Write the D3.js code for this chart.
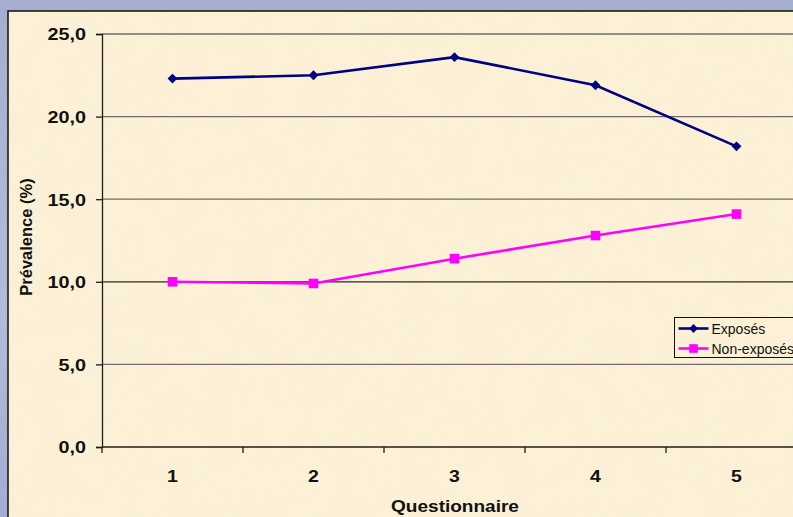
<!DOCTYPE html>
<html>
<head>
<meta charset="utf-8">
<script src="https://cdn.jsdelivr.net/npm/d3@7"></script>
<style>
  html, body { margin: 0; padding: 0; background: #a9b2d3; }
  svg { display: block; font-family: Arial, "Liberation Sans", sans-serif; }
</style>
</head>
<body>
<svg width="793" height="517"></svg>
<script>
// Chart data
var questionnaires = [1, 2, 3, 4, 5];
var exposes = [22.3, 22.5, 23.6, 21.9, 18.2];
var nonExposes = [10.0, 9.9, 11.4, 12.8, 14.1];
var yTicks = [0, 5, 10, 15, 20, 25];
var seriesNames = ["Exposés", "Non-exposés"];

var svg = d3.select("svg"),
    width = +svg.attr("width"),
    height = +svg.attr("height");

// blue slide background with a soft vertical fade
var defs = svg.append("defs");
var bg = defs.append("linearGradient").attr("id", "bg")
    .attr("x1", 0).attr("y1", 0).attr("x2", 0).attr("y2", 1);
bg.append("stop").attr("offset", "0%").attr("stop-color", "#a6aed0");
bg.append("stop").attr("offset", "60%").attr("stop-color", "#b4bbd9");
bg.append("stop").attr("offset", "100%").attr("stop-color", "#a3acd2");

// parchment texture for the chart area
var tex = defs.append("filter").attr("id", "paper")
    .attr("x", 0).attr("y", 0).attr("width", "100%").attr("height", "100%");
tex.append("feTurbulence").attr("type", "fractalNoise")
    .attr("baseFrequency", 0.03).attr("numOctaves", 3).attr("seed", 4).attr("result", "noise");
tex.append("feColorMatrix").attr("in", "noise").attr("type", "matrix")
    .attr("values", "0 0 0 0 0.92  0 0 0 0 0.85  0 0 0 0 0.66  0 0 0 0.35 -0.05")
    .attr("result", "tint");
tex.append("feComposite").attr("in", "tint").attr("in2", "SourceGraphic").attr("operator", "in");

svg.append("rect").attr("width", width).attr("height", height).attr("fill", "url(#bg)");

// chart frame
var frame = { x: 8, y: 11 };
[null, "url(#paper)"].forEach(function(f) {
  svg.append("rect")
      .attr("x", frame.x).attr("y", frame.y)
      .attr("width", width - frame.x + 5).attr("height", height - frame.y + 5)
      .attr("fill", "#fcf1d6")
      .attr("filter", f);
});
svg.append("rect")
    .attr("x", frame.x).attr("y", frame.y)
    .attr("width", width - frame.x + 5).attr("height", height - frame.y + 5)
    .attr("fill", "none")
    .attr("stroke", "#1c1c1c")
    .attr("stroke-width", 1.6);

// plot area
var plot = { left: 102, top: 34, bottom: 447, step: 141 };

var x = d3.scaleBand()
    .domain(questionnaires)
    .range([plot.left, plot.left + plot.step * questionnaires.length]);

var y = d3.scaleLinear()
    .domain([0, 25])
    .range([plot.bottom, plot.top]);

var fmt = function(d) { return d3.format(".1f")(d).replace(".", ","); };

// horizontal grid lines
svg.append("g")
    .selectAll("line")
    .data(yTicks.filter(function(d) { return d > 0; }))
    .enter().append("line")
      .attr("x1", plot.left).attr("x2", width)
      .attr("y1", function(d) { return y(d); })
      .attr("y2", function(d) { return y(d); })
      .attr("stroke", function(d) { return d === 10 ? "#2a2a2a" : "#6e6e6e"; })
      .attr("stroke-width", 1.3);

// y axis
var yAxis = svg.append("g")
    .attr("transform", "translate(" + plot.left + ",0)")
    .call(d3.axisLeft(y).tickValues(yTicks).tickSize(6).tickPadding(7.3).tickFormat(fmt));
yAxis.select(".domain").attr("stroke", "#1c1c1c").attr("stroke-width", 1.3);
yAxis.selectAll(".tick line").attr("stroke", "#1c1c1c").attr("stroke-width", 1.3);
yAxis.selectAll("text")
    .attr("fill", "#111")
    .attr("transform", "scale(1.2,1)")
    .attr("dy", "0.36em")
    .style("font-size", "16.5px")
    .style("font-weight", "bold")
    .style("font-family", "Arial, 'Liberation Sans', sans-serif");

// x axis: ticks between categories
var xAxisG = svg.append("g");
xAxisG.append("line")
    .attr("x1", plot.left).attr("x2", width)
    .attr("y1", plot.bottom).attr("y2", plot.bottom)
    .attr("stroke", "#1c1c1c").attr("stroke-width", 1.3);
xAxisG.selectAll(".sep")
    .data(questionnaires)
    .enter().append("line")
      .attr("class", "sep")
      .attr("x1", function(d) { return x(d); })
      .attr("x2", function(d) { return x(d); })
      .attr("y1", plot.bottom).attr("y2", plot.bottom + 6)
      .attr("stroke", "#1c1c1c").attr("stroke-width", 1.3);
xAxisG.selectAll(".lbl")
    .data(questionnaires)
    .enter().append("text")
      .attr("class", "lbl")
      .attr("transform", function(d) {
        return "translate(" + (x(d) + x.bandwidth() / 2) + ",482) scale(1.15,1)";
      })
      .attr("text-anchor", "middle")
      .attr("fill", "#111")
      .style("font-size", "17px")
      .style("font-weight", "bold")
      .text(function(d) { return d; });

// axis titles
svg.append("text")
    .attr("transform", "translate(455,512) scale(1.14,1)")
    .attr("text-anchor", "middle")
    .attr("fill", "#111")
    .style("font-size", "16.7px")
    .style("font-weight", "bold")
    .text("Questionnaire");

svg.append("text")
    .attr("transform", "translate(32,237) rotate(-90)")
    .attr("text-anchor", "middle")
    .attr("fill", "#111")
    .style("font-size", "16.5px")
    .style("font-weight", "bold")
    .text("Prévalence (%)");

// series
var cx = function(d, i) { return x(questionnaires[i]) + x.bandwidth() / 2; };
var line = d3.line()
    .x(function(d, i) { return cx(d, i); })
    .y(function(d) { return y(d); });

var series = [
  { name: seriesNames[0], values: exposes, color: "#000080", symbol: d3.symbolDiamond2, size: 62 },
  { name: seriesNames[1], values: nonExposes, color: "#ff00ff", symbol: d3.symbolSquare, size: 92 }
];

series.forEach(function(s) {
  svg.append("path")
      .datum(s.values)
      .attr("d", line)
      .attr("fill", "none")
      .attr("stroke", s.color)
      .attr("stroke-width", 2.6);

  svg.append("g")
    .selectAll("path")
    .data(s.values)
    .enter().append("path")
      .attr("transform", function(d, i) { return "translate(" + cx(d, i) + "," + y(d) + ")"; })
      .attr("d", d3.symbol().type(s.symbol).size(s.size))
      .attr("fill", s.color);
});

// legend
var legend = svg.append("g").attr("transform", "translate(674.5,317.5)");
legend.append("rect")
    .attr("width", 130).attr("height", 40)
    .attr("fill", "#fcf1d6")
    .attr("stroke", "#111")
    .attr("stroke-width", 1);

var item = legend.selectAll(".item")
    .data(series)
    .enter().append("g")
      .attr("class", "item")
      .attr("transform", function(d, i) { return "translate(0," + (11 + i * 20) + ")"; });
item.append("line")
    .attr("x1", 4).attr("x2", 34)
    .attr("stroke", function(d) { return d.color; })
    .attr("stroke-width", 2.6);
item.append("path")
    .attr("transform", "translate(19,0)")
    .attr("d", function(d) { return d3.symbol().type(d.symbol).size(d.size * 0.8)(); })
    .attr("fill", function(d) { return d.color; });
item.append("text")
    .attr("x", 37).attr("y", 5)
    .attr("fill", "#111")
    .style("font-size", "14px")
    .text(function(d) { return d.name; });
</script>
</body>
</html>
